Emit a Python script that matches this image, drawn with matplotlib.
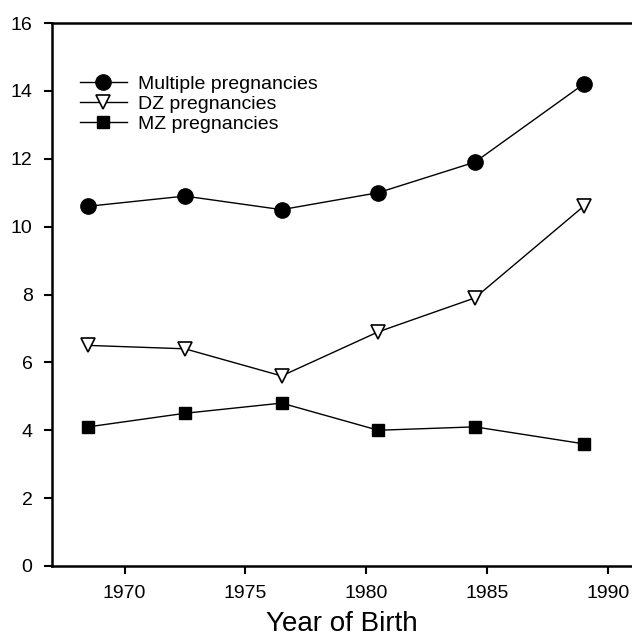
import matplotlib
matplotlib.use("Agg")
import matplotlib.pyplot as plt

years = [1968.5, 1972.5, 1976.5, 1980.5, 1984.5, 1989.0]
multiple = [10.6, 10.9, 10.5, 11.0, 11.9, 14.2]
dz = [6.5, 6.4, 5.6, 6.9, 7.9, 10.6]
mz = [4.1, 4.5, 4.8, 4.0, 4.1, 3.6]
xticks = [1970, 1975, 1980, 1985, 1990]
yticks = [0, 2, 4, 6, 8, 10, 12, 14, 16]

plt.rcParams['font.family'] = ['Liberation Sans', 'DejaVu Sans']

fig = plt.figure(figsize=(6.32, 6.39), dpi=100)
ax = fig.add_axes([52/632, (639-566)/639, 1 - 52/632, (566-23)/639])

ax.plot(years, multiple, color='black', lw=1.0, marker='o', ms=11,
        mfc='black', mec='black', label='Multiple pregnancies')
ax.plot(years, dz, color='black', lw=1.0, marker='v', ms=10,
        mfc='white', mec='black', mew=1.2, label='DZ pregnancies')
ax.plot(years, mz, color='black', lw=1.0, marker='s', ms=9,
        mfc='black', mec='black', label='MZ pregnancies')

ax.set_xlim(1967, 1991.0)
ax.set_ylim(0, 16)
ax.set_xticks(xticks)
ax.set_yticks(yticks)
ax.tick_params(axis='both', direction='out', length=6, width=1.5,
               labelsize=14, pad=8)
for s in ['left', 'bottom', 'top']:
    ax.spines[s].set_linewidth(1.8)
ax.spines['right'].set_visible(False)

ax.set_xlabel('Year of Birth', fontsize=20, labelpad=6)

ax.legend(loc='upper left', bbox_to_anchor=(0.035, 0.918), frameon=False,
          fontsize=14, handlelength=2.4, handletextpad=0.6,
          labelspacing=0.12, borderaxespad=0)

fig.savefig('out.png', dpi=100)
